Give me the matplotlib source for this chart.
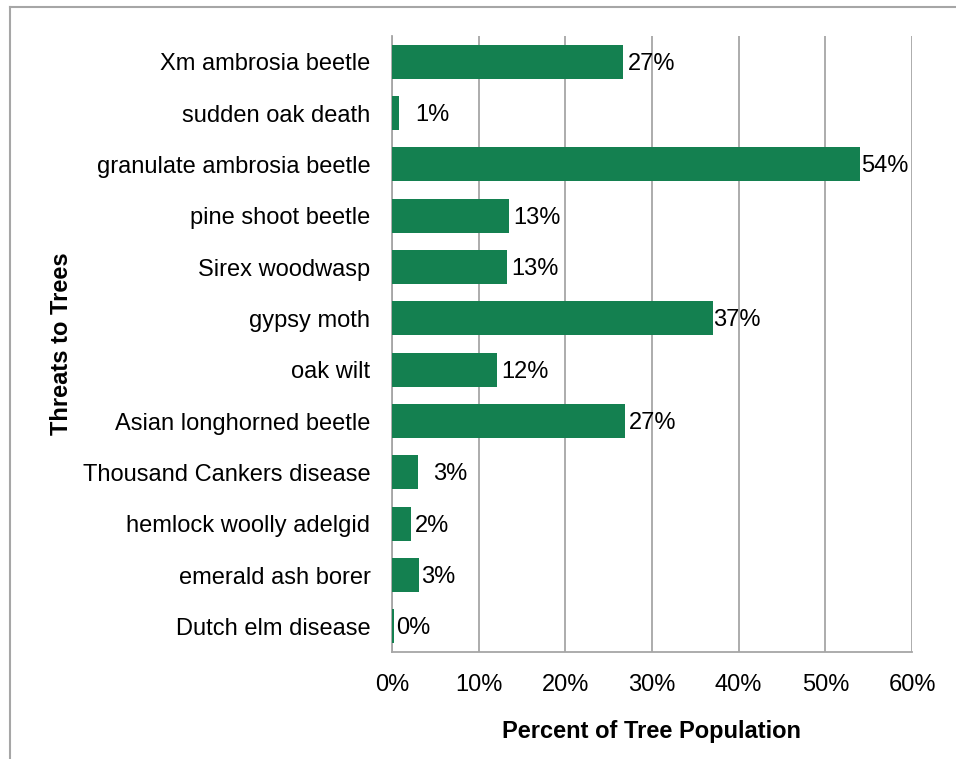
import matplotlib
matplotlib.use("Agg")
import matplotlib.pyplot as plt
from matplotlib.lines import Line2D

plt.rcParams['font.family'] = ['Liberation Sans', 'DejaVu Sans']

threats = [
    "Xm ambrosia beetle",
    "sudden oak death",
    "granulate ambrosia beetle",
    "pine shoot beetle",
    "Sirex woodwasp",
    "gypsy moth",
    "oak wilt",
    "Asian longhorned beetle",
    "Thousand Cankers disease",
    "hemlock woolly adelgid",
    "emerald ash borer",
    "Dutch elm disease",
]
percent = [26.6, 0.8, 54.0, 13.5, 13.3, 37.0, 12.1, 26.9, 3.0, 2.2, 3.1, 0.2]
labels = ["27%", "1%", "54%", "13%", "13%", "37%", "12%", "27%", "3%", "2%", "3%", "0%"]
# extra gap (points) between bar end and its label
label_gap = [3.5, 12, 1, 3, 3, 0, 3, 3, 11, 3, 1.5, 1.5]
xticks = [0, 10, 20, 30, 40, 50, 60]
xtick_labels = ["0%", "10%", "20%", "30%", "40%", "50%", "60%"]

W, H = 956, 759
FS = 17
fig = plt.figure(figsize=(W / 100, H / 100), dpi=100)

# outer frame of the chart area
fig.add_artist(Line2D([10 / W, 10 / W], [0, 1 - 7 / H], transform=fig.transFigure,
                      color="#a6a6a6", lw=1.5))
fig.add_artist(Line2D([10 / W, 1], [1 - 7 / H, 1 - 7 / H], transform=fig.transFigure,
                      color="#a6a6a6", lw=1.5))

ax = fig.add_axes([392 / W, 1 - 652 / H, (912 - 392) / W, (652 - 36) / H])

green = "#148050"
y = list(range(len(threats)))
ax.barh(y, percent, height=0.66, color=green, zorder=3)
ax.set_ylim(len(threats) - 0.5, -0.5)
ax.set_xlim(0, 60)

for yi, v, lab, g in zip(y, percent, labels, label_gap):
    ax.annotate(lab, xy=(v, yi), xytext=(g, -1.5), textcoords="offset points",
                va="center", ha="left", fontsize=FS, color="#000000", zorder=4)

ax.set_yticks(y)
ax.set_yticklabels(threats, fontsize=FS)
ax.set_xticks(xticks)
ax.set_xticklabels(xtick_labels, fontsize=FS)
ax.tick_params(axis="y", length=0, pad=15.5)
ax.tick_params(axis="x", length=0, pad=16)

ax.grid(axis="x", color="#a6a6a6", lw=1.3, zorder=0)
for s in ["top", "right"]:
    ax.spines[s].set_visible(False)
ax.spines["left"].set_color("#a6a6a6")
ax.spines["bottom"].set_color("#a6a6a6")
ax.spines["left"].set_linewidth(1.3)
ax.spines["bottom"].set_linewidth(1.3)

ax.set_xlabel("Percent of Tree Population", fontsize=FS, fontweight="bold", labelpad=17)
ax.set_ylabel("Threats to Trees", fontsize=FS, fontweight="bold", labelpad=7)

fig.savefig("out.png", dpi=100, facecolor="white")
